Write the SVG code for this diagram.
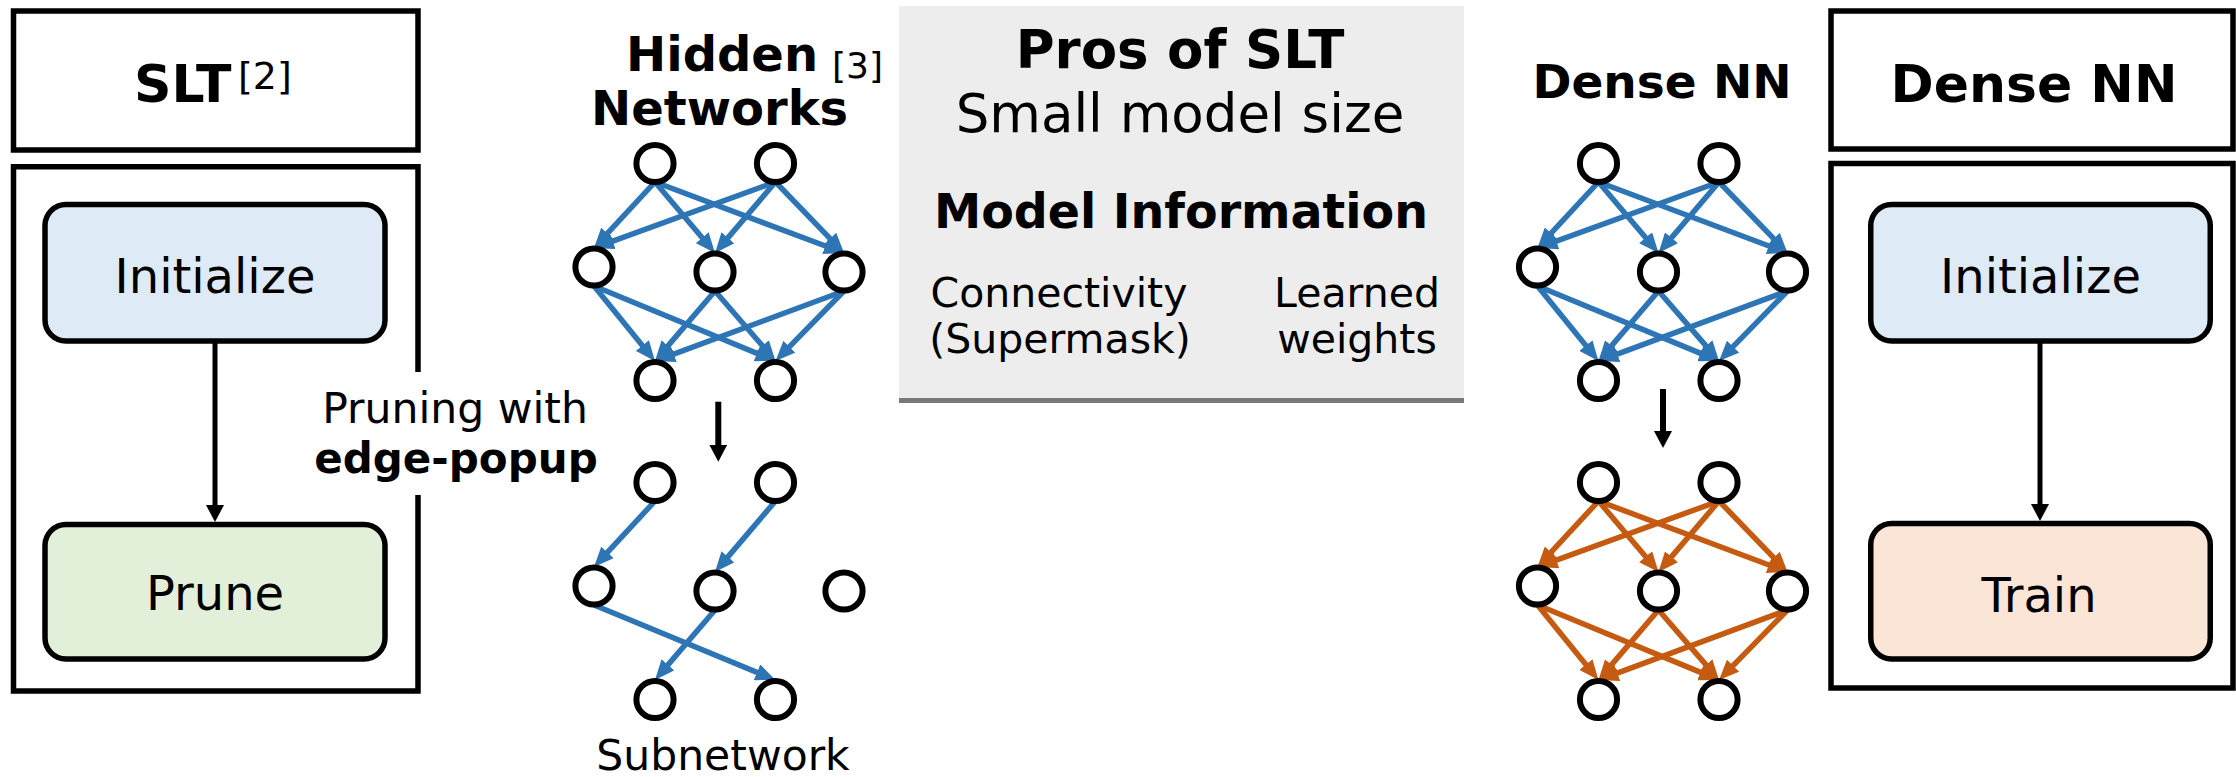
<svg xmlns="http://www.w3.org/2000/svg" width="2236" height="777" viewBox="0 0 2236 777">
  <style>
    text { font-family: "DejaVu Sans", "Liberation Sans", sans-serif; fill: #000; }
    .b { font-weight: bold; }
    .mid { text-anchor: middle; }
    .frame { fill: #fff; stroke: #000; stroke-width: 5.5; }
    .open { fill: none; stroke: #000; stroke-width: 5.5; }
    .step { stroke: #000; stroke-width: 5.5; }
    .init { fill: #DEEBF7; }
    .prune { fill: #E2F0D9; }
    .train { fill: #FBE5D6; }
    .node circle { fill: #fff; stroke: #000; stroke-width: 6; }
    .eb line { stroke: #2E75B6; stroke-width: 5.5; marker-end: url(#ah-blue); }
    .eo line { stroke: #C55A11; stroke-width: 5.5; marker-end: url(#ah-orange); }
    .flow { stroke: #000; stroke-width: 5; marker-end: url(#ah-black); }
    .down { stroke: #000; stroke-width: 6; marker-end: url(#ah-black); }
  </style>
  <defs>
    <marker id="ah-blue" markerUnits="userSpaceOnUse" markerWidth="20" markerHeight="17" refX="8" refY="8.5" orient="auto">
      <path d="M0,0 L20,8.5 L0,17 z" fill="#2E75B6"/>
    </marker>
    <marker id="ah-orange" markerUnits="userSpaceOnUse" markerWidth="20" markerHeight="17" refX="8" refY="8.5" orient="auto">
      <path d="M0,0 L20,8.5 L0,17 z" fill="#C55A11"/>
    </marker>
    <marker id="ah-black" markerUnits="userSpaceOnUse" markerWidth="17" markerHeight="18" refX="2" refY="9" orient="auto">
      <path d="M0,0 L17,9 L0,18 z" fill="#000"/>
    </marker>
  </defs>

  <!-- SLT panel -->
  <g id="slt-title">
    <rect class="frame" x="13.5" y="11" width="404.5" height="139"/>
    <text x="134" y="102" class="b" font-size="52">SLT</text>
    <text x="238" y="89" font-size="38">[2]</text>
  </g>
  <g id="slt-body">
    <path class="open" d="M418,372 V166.7 H13.5 V691 H418 V495"/>
  </g>

  <!-- Dense NN panel -->
  <g id="dense-title">
    <rect class="frame" x="1831" y="11" width="402" height="138"/>
    <text x="2034" y="102" class="b mid" font-size="52">Dense NN</text>
  </g>
  <g id="dense-body">
    <rect class="open" x="1831" y="163.5" width="402" height="524.5"/>
  </g>

  <!-- Pros / model information panel -->
  <g id="pros-panel">
    <rect x="899" y="6" width="565" height="392" fill="#EDEDED"/>
    <rect x="899" y="398" width="565" height="5" fill="#7A7A7A"/>
    <text x="1180" y="68" class="b mid" font-size="53">Pros of SLT</text>
    <text x="1180" y="132" class="mid" font-size="53">Small model size</text>
    <text x="1181" y="228" class="b mid" font-size="47.5">Model Information</text>
    <text x="1059" y="307" class="mid" font-size="41">Connectivity</text>
    <text x="1060" y="353" class="mid" font-size="41">(Supermask)</text>
    <text x="1357" y="307" class="mid" font-size="41">Learned</text>
    <text x="1357" y="353" class="mid" font-size="41">weights</text>
  </g>

  <!-- Labels -->
  <g id="hidden-label">
    <text x="626" y="71" class="b" font-size="48">Hidden</text>
    <text x="591" y="125" class="b" font-size="48">Networks</text>
    <text x="832" y="78" font-size="36">[3]</text>
  </g>
  <g id="dense-label">
    <text x="1662" y="98" class="b mid" font-size="47">Dense NN</text>
  </g>
  <g id="pruning-label">
    <text x="455" y="423" class="mid" font-size="42.5">Pruning with</text>
    <text x="456" y="473" class="b mid" font-size="42">edge-popup</text>
  </g>
  <g id="subnetwork-label">
    <text x="723" y="770" class="mid" font-size="42.5">Subnetwork</text>
  </g>

  <!-- Connectors -->
  <g id="connectors">
    <line class="flow" x1="215" y1="343" x2="215" y2="507"/>
    <line class="flow" x1="2040" y1="343" x2="2040" y2="506"/>
    <line class="down" x1="718.3" y1="401.7" x2="718.3" y2="446.7"/>
    <line class="down" x1="1663" y1="389" x2="1663" y2="433"/>

    <g id="edges-hidden" class="eb">
      <line x1="655" y1="182" x2="602.1" y2="239.2"/>
      <line x1="655" y1="182" x2="707.3" y2="243.8"/>
      <line x1="655" y1="182" x2="832.8" y2="248.8"/>
      <line x1="775.5" y1="182" x2="605.3" y2="243.9"/>
      <line x1="775.5" y1="182" x2="722.8" y2="243.9"/>
      <line x1="775.5" y1="182" x2="835.7" y2="244.4"/>
      <line x1="594" y1="286" x2="647.4" y2="351.7"/>
      <line x1="594" y1="286" x2="764.4" y2="356.4"/>
      <line x1="715" y1="291" x2="662.8" y2="351.9"/>
      <line x1="715" y1="291" x2="767.7" y2="351.9"/>
      <line x1="844" y1="291" x2="666.3" y2="356.8"/>
      <line x1="844" y1="291" x2="783.9" y2="352.4"/>
    </g>
    <g id="edges-sub" class="eb" transform="translate(0,319)">
      <line x1="655" y1="182" x2="602.1" y2="239.2"/>
      <line x1="775.5" y1="182" x2="722.8" y2="243.9"/>
      <line x1="594" y1="286" x2="764.4" y2="356.4"/>
      <line x1="715" y1="291" x2="662.8" y2="351.9"/>
    </g>
    <g id="edges-dense" class="eb" transform="translate(943.5,0)">
      <line x1="655" y1="182" x2="602.1" y2="239.2"/>
      <line x1="655" y1="182" x2="707.3" y2="243.8"/>
      <line x1="655" y1="182" x2="832.8" y2="248.8"/>
      <line x1="775.5" y1="182" x2="605.3" y2="243.9"/>
      <line x1="775.5" y1="182" x2="722.8" y2="243.9"/>
      <line x1="775.5" y1="182" x2="835.7" y2="244.4"/>
      <line x1="594" y1="286" x2="647.4" y2="351.7"/>
      <line x1="594" y1="286" x2="764.4" y2="356.4"/>
      <line x1="715" y1="291" x2="662.8" y2="351.9"/>
      <line x1="715" y1="291" x2="767.7" y2="351.9"/>
      <line x1="844" y1="291" x2="666.3" y2="356.8"/>
      <line x1="844" y1="291" x2="783.9" y2="352.4"/>
    </g>
    <g id="edges-trained" class="eo" transform="translate(943.5,319)">
      <line x1="655" y1="182" x2="602.1" y2="239.2"/>
      <line x1="655" y1="182" x2="707.3" y2="243.8"/>
      <line x1="655" y1="182" x2="832.8" y2="248.8"/>
      <line x1="775.5" y1="182" x2="605.3" y2="243.9"/>
      <line x1="775.5" y1="182" x2="722.8" y2="243.9"/>
      <line x1="775.5" y1="182" x2="835.7" y2="244.4"/>
      <line x1="594" y1="286" x2="647.4" y2="351.7"/>
      <line x1="594" y1="286" x2="764.4" y2="356.4"/>
      <line x1="715" y1="291" x2="662.8" y2="351.9"/>
      <line x1="715" y1="291" x2="767.7" y2="351.9"/>
      <line x1="844" y1="291" x2="666.3" y2="356.8"/>
      <line x1="844" y1="291" x2="783.9" y2="352.4"/>
    </g>
  </g>

  <!-- Process steps -->
  <g id="slt-initialize">
    <rect class="step init" x="45" y="204.5" width="340" height="136.5" rx="21"/>
    <text x="215" y="292.5" class="mid" font-size="48">Initialize</text>
  </g>
  <g id="slt-prune">
    <rect class="step prune" x="45" y="524.5" width="340" height="134.5" rx="21"/>
    <text x="215" y="610" class="mid" font-size="48">Prune</text>
  </g>
  <g id="dense-initialize">
    <rect class="step init" x="1870.75" y="204.5" width="339.5" height="136.5" rx="21"/>
    <text x="2040.5" y="292.5" class="mid" font-size="48">Initialize</text>
  </g>
  <g id="dense-train">
    <rect class="step train" x="1870.75" y="523.5" width="339.5" height="135.5" rx="21"/>
    <text x="2039" y="611.5" class="mid" font-size="48">Train</text>
  </g>

  <!-- Network nodes: hidden network -->
  <g id="hidden-net">
    <g id="h-t1" class="node"><circle cx="655" cy="163.5" r="18.6"/></g>
    <g id="h-t2" class="node"><circle cx="775.5" cy="163.5" r="18.6"/></g>
    <g id="h-m1" class="node"><circle cx="594" cy="267" r="18.6"/></g>
    <g id="h-m2" class="node"><circle cx="715" cy="272" r="18.6"/></g>
    <g id="h-m3" class="node"><circle cx="844" cy="272" r="18.6"/></g>
    <g id="h-b1" class="node"><circle cx="655" cy="380.5" r="18.6"/></g>
    <g id="h-b2" class="node"><circle cx="775.5" cy="380.5" r="18.6"/></g>
  </g>
  <!-- subnetwork -->
  <g id="sub-net" transform="translate(0,319)">
    <g id="s-t1" class="node"><circle cx="655" cy="163.5" r="18.6"/></g>
    <g id="s-t2" class="node"><circle cx="775.5" cy="163.5" r="18.6"/></g>
    <g id="s-m1" class="node"><circle cx="594" cy="267" r="18.6"/></g>
    <g id="s-m2" class="node"><circle cx="715" cy="272" r="18.6"/></g>
    <g id="s-m3" class="node"><circle cx="844" cy="272" r="18.6"/></g>
    <g id="s-b1" class="node"><circle cx="655" cy="380.5" r="18.6"/></g>
    <g id="s-b2" class="node"><circle cx="775.5" cy="380.5" r="18.6"/></g>
  </g>
  <!-- dense network -->
  <g id="dense-net" transform="translate(943.5,0)">
    <g id="d-t1" class="node"><circle cx="655" cy="163.5" r="18.6"/></g>
    <g id="d-t2" class="node"><circle cx="775.5" cy="163.5" r="18.6"/></g>
    <g id="d-m1" class="node"><circle cx="594" cy="267" r="18.6"/></g>
    <g id="d-m2" class="node"><circle cx="715" cy="272" r="18.6"/></g>
    <g id="d-m3" class="node"><circle cx="844" cy="272" r="18.6"/></g>
    <g id="d-b1" class="node"><circle cx="655" cy="380.5" r="18.6"/></g>
    <g id="d-b2" class="node"><circle cx="775.5" cy="380.5" r="18.6"/></g>
  </g>
  <!-- trained dense network -->
  <g id="trained-net" transform="translate(943.5,319)">
    <g id="o-t1" class="node"><circle cx="655" cy="163.5" r="18.6"/></g>
    <g id="o-t2" class="node"><circle cx="775.5" cy="163.5" r="18.6"/></g>
    <g id="o-m1" class="node"><circle cx="594" cy="267" r="18.6"/></g>
    <g id="o-m2" class="node"><circle cx="715" cy="272" r="18.6"/></g>
    <g id="o-m3" class="node"><circle cx="844" cy="272" r="18.6"/></g>
    <g id="o-b1" class="node"><circle cx="655" cy="380.5" r="18.6"/></g>
    <g id="o-b2" class="node"><circle cx="775.5" cy="380.5" r="18.6"/></g>
  </g>
</svg>
